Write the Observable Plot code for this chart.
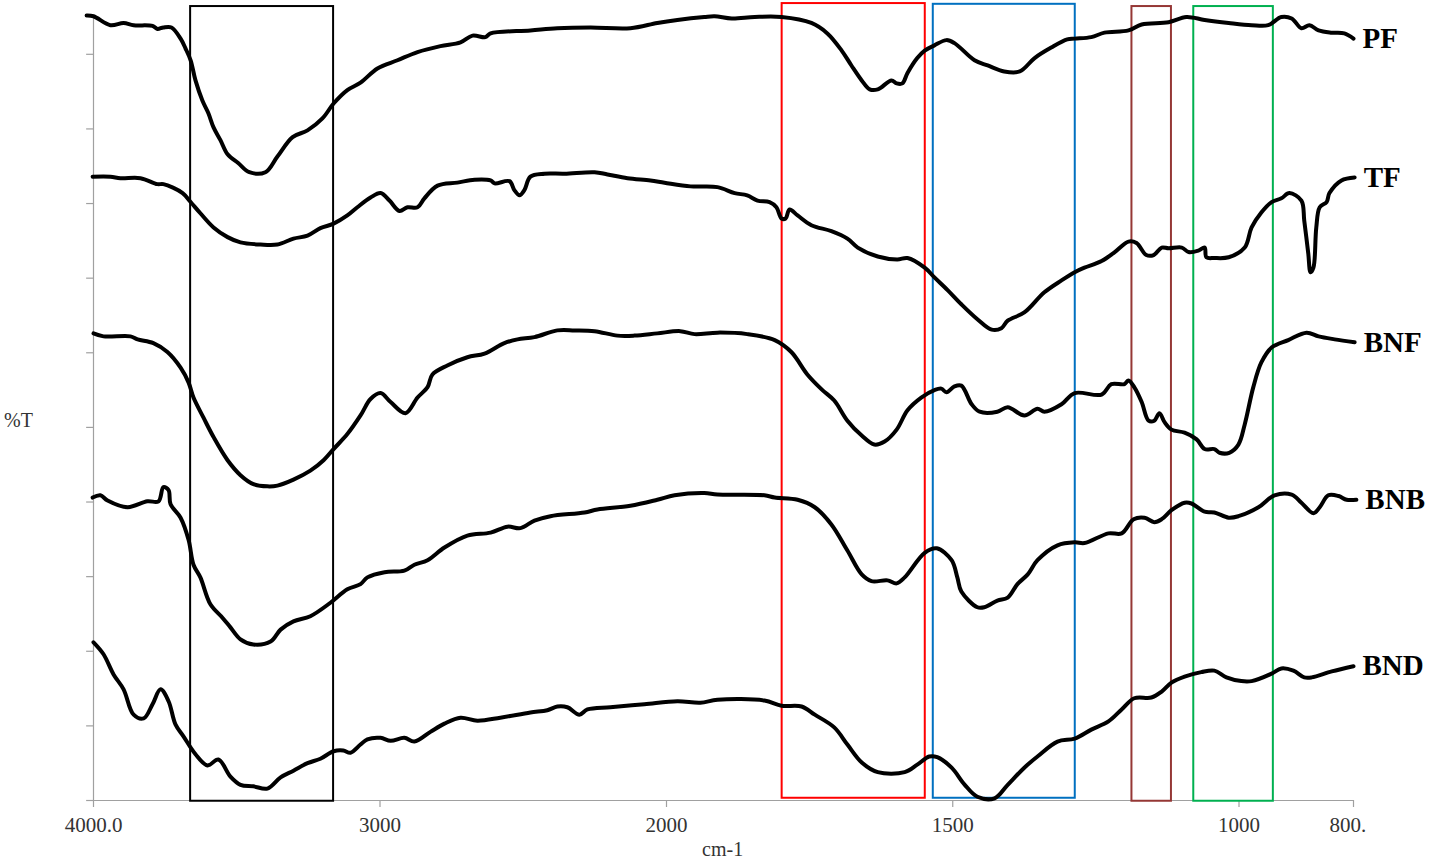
<!DOCTYPE html>
<html>
<head>
<meta charset="utf-8">
<script src="https://cdn.jsdelivr.net/npm/d3@7"></script>
<script src="https://cdn.jsdelivr.net/npm/@observablehq/plot@0.6"></script>
<style>
  html, body { margin: 0; padding: 0; background: #fff; overflow: hidden; }
  #chart svg { display: block; }
  #chart svg text { font-family: 'Liberation Serif', 'Times New Roman', serif; }
</style>
</head>
<body>
<div id="chart"></div>
<script>
// ---- tick labels ----
const wavenumberTicks = [4000, 3000, 2000, 1500, 1000, 800];
const wavenumberTickLabels = ["4000.0", "3000", "2000", "1500", "1000", "800."];
const transmittanceTicks = [0, 10, 20, 30, 40, 50, 60, 70, 80, 90, 100];

// ---- series: [wavenumber (cm-1), %T (offset)] ----
const seriesNames = ["PF", "TF", "BNF", "BNB", "BND"];

const PF = [[4024,105.2],[4000,105.1],[3941,103.9],[3895,104.2],[3860,103.9],[3794,103.8],[3777,103.4],[3756,103.6],[3728,103.6],[3696,102.1],[3679,100.8],[3661,99.2],[3644,96.5],[3620,93.8],[3599,92.1],[3581,90.2],[3557,88.5],[3532,86.6],[3494,85.4],[3456,84.2],[3400,84.2],[3358,86.3],[3305,88.9],[3253,89.8],[3201,91.4],[3162,93.4],[3114,95.2],[3068,96.2],[3009,98.1],[2939,99.2],[2869,100.3],[2789,101.1],[2719,101.6],[2677,102.5],[2632,102.3],[2614,102.8],[2475,103.2],[2381,103.5],[2265,103.6],[2126,103.5],[2032,104.2],[1981,104.6],[1934,105.0],[1916,105.1],[1886,104.8],[1846,105.0],[1799,105.0],[1747,104.2],[1719,102.8],[1694,100.5],[1677,98.5],[1659,96.5],[1645,95.3],[1631,95.3],[1607,96.5],[1598,96.1],[1588,96.1],[1579,97.5],[1562,99.5],[1549,100.5],[1532,101.2],[1511,101.9],[1497,101.5],[1462,99.2],[1439,98.5],[1410,97.7],[1383,97.7],[1357,99.5],[1328,100.9],[1300,102.0],[1287,102.1],[1258,102.3],[1235,102.9],[1193,103.2],[1170,104.0],[1123,104.3],[1092,105.0],[1060,104.6],[1018,104.2],[978,103.9],[949,103.9],[926,105.0],[908,104.8],[891,103.5],[877,103.9],[861,103.2],[838,102.9],[816,102.8],[800,102.1]];

const TF = [[4003,83.6],[3941,83.6],[3906,83.4],[3836,83.4],[3777,82.6],[3756,82.6],[3689,81.4],[3661,80.2],[3627,78.7],[3581,76.8],[3532,75.5],[3487,74.8],[3417,74.5],[3358,74.5],[3302,75.3],[3253,75.7],[3208,76.7],[3162,77.3],[3114,78.4],[3079,79.5],[3033,80.8],[2998,81.4],[2967,80.4],[2932,79.0],[2904,79.5],[2869,79.5],[2845,80.7],[2799,82.4],[2730,82.8],[2670,83.2],[2614,83.1],[2600,82.7],[2548,83.0],[2531,81.8],[2513,81.1],[2496,81.8],[2475,83.6],[2426,84.0],[2356,84.0],[2251,84.2],[2206,83.9],[2136,83.4],[2056,83.1],[2007,82.8],[1958,82.3],[1911,82.2],[1881,81.4],[1859,81.1],[1841,80.4],[1820,80.2],[1808,79.5],[1799,78.0],[1792,78.0],[1785,79.2],[1771,78.4],[1747,77.1],[1712,76.3],[1684,75.3],[1666,74.1],[1631,72.9],[1597,72.5],[1579,72.7],[1549,71.4],[1532,70.1],[1509,68.4],[1485,66.5],[1457,64.5],[1432,63.1],[1415,63.3],[1404,64.3],[1375,65.4],[1340,68.1],[1310,69.7],[1287,70.8],[1270,71.4],[1240,72.3],[1217,73.5],[1193,74.9],[1179,74.7],[1162,73.1],[1149,73.1],[1135,74.1],[1123,74.0],[1100,74.1],[1088,73.5],[1071,73.7],[1060,74.1],[1057,72.8],[1043,72.7],[1018,72.8],[990,74.1],[978,76.8],[961,78.8],[943,80.2],[926,80.7],[912,81.4],[891,80.4],[886,77.7],[879,73.3],[875,70.8],[870,71.4],[865,76.8],[859,79.5],[847,80.2],[842,81.4],[821,83.1],[798,83.5]];

const BNF = [[4000,62.6],[3965,62.2],[3871,62.2],[3846,61.8],[3791,61.3],[3742,60.1],[3696,58.0],[3668,56.0],[3651,54.0],[3616,51.3],[3581,48.7],[3532,45.6],[3487,43.6],[3442,42.4],[3393,42.1],[3358,42.2],[3302,43.0],[3243,44.2],[3197,45.6],[3162,47.1],[3114,49.1],[3068,51.6],[3033,53.8],[2998,54.6],[2963,53.4],[2911,51.9],[2869,54.0],[2834,55.4],[2817,57.1],[2765,58.3],[2695,59.4],[2635,59.9],[2566,61.3],[2520,61.8],[2461,62.1],[2381,63.0],[2321,63.0],[2251,62.9],[2171,62.3],[2112,62.3],[2032,62.6],[1976,62.9],[1951,62.5],[1911,62.7],[1859,62.5],[1811,61.7],[1782,60.1],[1754,57.1],[1729,55.1],[1707,53.6],[1684,50.9],[1659,48.9],[1637,47.7],[1619,48.1],[1598,49.7],[1579,52.3],[1555,54.0],[1532,55.0],[1520,55.2],[1511,54.7],[1497,55.5],[1485,55.6],[1467,53.1],[1453,52.1],[1422,52.1],[1404,52.7],[1375,51.6],[1352,52.5],[1340,52.1],[1310,53.1],[1287,54.6],[1240,54.4],[1223,55.8],[1200,55.8],[1193,56.3],[1183,55.4],[1170,53.4],[1158,50.9],[1148,50.9],[1139,51.9],[1130,50.7],[1118,49.7],[1095,49.3],[1074,48.4],[1060,47.1],[1043,47.1],[1034,46.6],[1017,46.6],[1001,47.7],[990,50.4],[975,55.4],[961,58.7],[943,60.7],[914,61.7],[882,62.7],[861,62.2],[833,61.8],[798,61.4]];

const BNB = [[4003,40.6],[3976,40.9],[3951,40.2],[3881,39.3],[3812,40.1],[3773,40.1],[3756,42.0],[3738,41.6],[3731,39.7],[3696,37.9],[3668,34.9],[3651,31.6],[3627,29.9],[3592,26.3],[3550,24.5],[3522,23.2],[3487,21.6],[3442,20.9],[3382,21.3],[3347,22.9],[3302,24.0],[3243,24.7],[3173,26.5],[3114,28.3],[3068,29.0],[3044,29.9],[2984,30.6],[2915,30.8],[2880,31.6],[2834,32.2],[2775,33.9],[2695,35.5],[2614,35.9],[2555,36.7],[2510,36.5],[2461,37.5],[2405,38.1],[2286,38.6],[2241,39.0],[2126,39.5],[2032,40.3],[1986,40.9],[1934,41.2],[1911,41.0],[1829,40.9],[1811,40.6],[1771,40.3],[1741,39.3],[1712,37.0],[1684,33.5],[1659,30.3],[1642,29.4],[1614,29.5],[1598,29.1],[1584,29.9],[1549,33.2],[1528,33.8],[1502,32.2],[1492,29.9],[1485,28.0],[1457,25.9],[1445,25.9],[1422,26.8],[1404,27.2],[1387,29.0],[1369,30.3],[1352,32.2],[1317,34.2],[1287,34.6],[1270,34.5],[1228,35.8],[1205,35.8],[1184,37.7],[1165,37.9],[1148,37.3],[1135,37.7],[1118,38.9],[1095,39.9],[1083,39.8],[1060,38.7],[1043,38.6],[1018,37.9],[1001,38.1],[966,39.3],[938,40.9],[908,41.0],[891,39.9],[870,38.5],[859,39.3],[844,40.9],[826,40.8],[812,40.3],[795,40.3]];

const BND = [[4000,21.2],[3965,19.6],[3930,16.9],[3895,14.9],[3860,11.5],[3825,11.0],[3794,12.9],[3766,14.9],[3738,13.3],[3714,10.2],[3686,8.6],[3644,6.2],[3602,4.7],[3564,5.5],[3522,3.2],[3487,2.1],[3442,1.9],[3393,1.6],[3347,3.1],[3302,4.0],[3253,5.0],[3208,5.6],[3162,6.6],[3128,6.7],[3103,6.4],[3068,7.5],[3044,8.2],[2998,8.4],[2963,8.0],[2915,8.4],[2880,7.9],[2824,9.2],[2775,10.3],[2719,11.1],[2660,10.7],[2580,11.1],[2475,11.8],[2416,12.1],[2381,12.6],[2346,12.5],[2304,11.5],[2276,12.2],[2196,12.5],[2077,12.9],[1981,13.3],[1941,13.1],[1911,13.5],[1829,13.4],[1799,12.7],[1764,12.6],[1741,11.5],[1707,9.8],[1684,7.5],[1659,5.1],[1631,3.8],[1584,3.8],[1562,4.8],[1541,5.9],[1527,5.8],[1502,4.4],[1479,2.1],[1457,0.5],[1427,0.3],[1404,2.1],[1375,4.4],[1352,5.9],[1317,7.9],[1287,8.3],[1258,9.5],[1228,10.6],[1205,12.2],[1183,13.7],[1153,13.8],[1135,14.6],[1118,15.8],[1095,16.6],[1066,17.2],[1043,17.4],[1022,16.5],[996,16.0],[978,16.0],[943,17.0],[926,17.7],[905,17.4],[886,16.5],[873,16.5],[838,17.3],[800,18.0]];

// ---- highlighted bands ----
const boxColors = ["#000000", "#ff0000", "#0070c0", "#953735", "#00b050"];
const boxFrom   = [3661, 1798, 1534, 1187, 1079];
const boxTo     = [3162, 1548, 1286, 1118, 940];
const boxTop    = [106.4, 106.8, 106.7, 106.4, 106.4];
const boxBottom = [-0.1, 0.3, 0.3, -0.1, -0.1];

// ---- build tables ----
const seriesData = [PF, TF, BNF, BNB, BND];
const rows = seriesData.flatMap((s, i) => s.map(([wn, t]) => ({series: seriesNames[i], wn, t})));
const boxes = boxColors.map((c, i) => ({color: c, x1: boxFrom[i], x2: boxTo[i], y1: boxBottom[i], y2: boxTop[i]}));
const xTickRows = wavenumberTicks.map((v, i) => ({v, label: wavenumberTickLabels[i]}));

const serif = "'Liberation Serif', 'Times New Roman', serif";
const axisGray = "#a0a0a0";

const chart = Plot.plot({
  width: 1429,
  height: 861,
  marginLeft: 93, marginRight: 76, marginTop: 15, marginBottom: 61,
  x: {type: "linear", domain: [4000, 2000, 800], range: [93, 666, 1353], axis: null},
  y: {domain: [0, 105.2], range: [800, 15], axis: null},
  style: {fontFamily: serif, background: "#fff", color: "#000"},
  marks: [
    // axes
    Plot.ruleY([0], {x1: 4000, x2: 800, stroke: axisGray, strokeWidth: 1.2}),
    Plot.ruleX([4000], {y1: 0, y2: 105.2, stroke: axisGray, strokeWidth: 1.2}),
    Plot.ruleX(wavenumberTicks, {x: d => d, y1: 0, y2: -0.94, stroke: axisGray, strokeWidth: 1.2}),
    Plot.ruleY(transmittanceTicks, {y: d => d, x1: 4000, x2: 4024, stroke: axisGray, strokeWidth: 1.2}),
    Plot.text(xTickRows.filter(d => d.v !== 800), {x: "v", y: 0, dy: 25, text: "label", fontFamily: serif, fontSize: 21, fill: "#333", lineAnchor: "middle"}),
    Plot.text(xTickRows.filter(d => d.v === 800), {x: "v", y: 0, dy: 25, dx: -24, text: "label", textAnchor: "start", fontFamily: serif, fontSize: 21, fill: "#333", lineAnchor: "middle"}),
    Plot.text(["cm-1"], {x: 1902, y: 0, dy: 49, text: d => d, fontFamily: serif, fontSize: 20, fill: "#333", lineAnchor: "middle"}),
    Plot.text(["%T"], {x: 4000, y: 50.9, dx: -75, text: d => d, fontFamily: serif, fontSize: 20, fill: "#333", lineAnchor: "middle"}),
    // bands
    Plot.rect(boxes, {x1: "x1", x2: "x2", y1: "y1", y2: "y2", stroke: "color", fill: "none", strokeWidth: 2}),
    // spectra
    Plot.line(rows, {x: "wn", y: "t", z: "series", curve: "catmull-rom", stroke: "#000", strokeWidth: 4, strokeLinejoin: "round", strokeLinecap: "round"}),
    // series labels
    Plot.text(rows, Plot.selectLast({x: "wn", y: "t", z: "series", text: "series", dx: 9, textAnchor: "start", lineAnchor: "middle", fontFamily: serif, fontSize: 29, fontWeight: "bold", fill: "#000"}))
  ]
});

document.getElementById("chart").appendChild(chart);
</script>
</body>
</html>
